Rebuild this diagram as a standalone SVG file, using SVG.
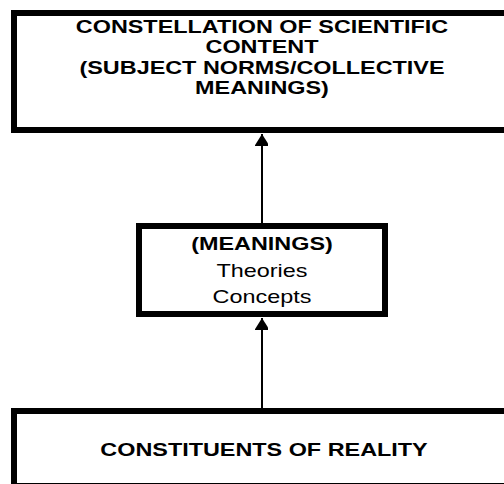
<svg xmlns="http://www.w3.org/2000/svg" width="504" height="484" viewBox="0 0 504 484">
<style>
.box{fill:#fff;stroke:#000;stroke-width:6}
.b{font-family:"Liberation Sans",Arial,sans-serif;font-weight:bold;font-size:18px;text-anchor:middle;fill:#000}
.r{font-family:"Liberation Sans",Arial,sans-serif;font-size:18px;text-anchor:middle;fill:#000}
.c{stroke:#000;stroke-width:2;fill:none}
</style>
<defs>
<marker id="ah" markerUnits="userSpaceOnUse" markerWidth="16" markerHeight="13" refX="12" refY="7.5" orient="auto">
<polygon points="0,0 12,7.5 0,15" fill="#000"/>
</marker>
</defs>
<rect width="504" height="484" fill="#fff"/>
<g id="connectors">
<line class="c" x1="262" y1="223" x2="262" y2="134" marker-end="url(#ah)"/>
<line class="c" x1="262" y1="408" x2="262" y2="318" marker-end="url(#ah)"/>
</g>
<g id="top">
<rect class="box" x="14" y="13" width="502" height="117"/>
<text class="b" transform="translate(262,33) scale(1.3,1)">CONSTELLATION OF SCIENTIFIC</text>
<text class="b" transform="translate(262,53.3) scale(1.3,1)">CONTENT</text>
<text class="b" transform="translate(262,73.6) scale(1.3,1)">(SUBJECT NORMS/COLLECTIVE</text>
<text class="b" transform="translate(262,94) scale(1.3,1)">MEANINGS)</text>
</g>
<g id="middle">
<rect class="box" x="139" y="226" width="246" height="88"/>
<text class="b" transform="translate(262,249.5) scale(1.3,1)">(MEANINGS)</text>
<text class="r" transform="translate(262,276.5) scale(1.3,1)">Theories</text>
<text class="r" transform="translate(262,302.5) scale(1.3,1)">Concepts</text>
</g>
<g id="bottom">
<rect class="box" x="14" y="411" width="502" height="75"/>
<text class="b" transform="translate(264,456) scale(1.3,1)">CONSTITUENTS OF REALITY</text>
</g>
</svg>
